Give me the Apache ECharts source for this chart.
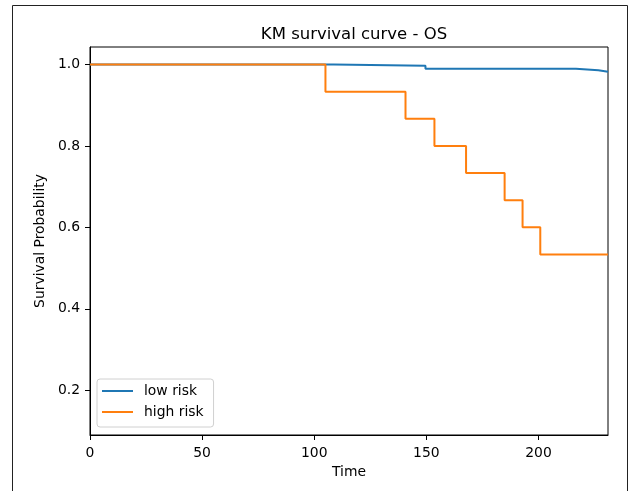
<!DOCTYPE html>
<html>
<head>
<meta charset="utf-8">
<title>KM survival curve - OS</title>
<script src="https://cdn.jsdelivr.net/npm/echarts@6/dist/echarts.min.js"></script>
<style>
  html, body { margin: 0; padding: 0; background: #fff; }
  #chart { width: 633px; height: 491px; }
</style>
</head>
<body>
<div id="chart"></div>
<script>
// Kaplan-Meier estimates: event times and survival after each event
const lowRiskTimes = [0, 108.7, 149.6, 216.7, 226.7, 231];
const lowRiskSurv  = [1.0, 0.997, 0.9895, 0.986, 0.982, 0.982];
const highRiskTimes = [0, 105.0, 140.7, 153.6, 167.7, 184.9, 192.9, 200.8, 231];
const highRiskSurv  = [1.0, 0.9333, 0.8667, 0.8, 0.7333, 0.6667, 0.6, 0.5333, 0.5333];

const seriesNames = ['low risk', 'high risk'];
const seriesColors = ['#1f77b4', '#ff7f0e'];

const xTicks = [0, 50, 100, 150, 200];
const yTicks = [0.2, 0.4, 0.6, 0.8, 1.0];

function pairs(times, surv) {
  return times.map((t, i) => [t, surv[i]]);
}

const font = 'DejaVu Sans';
const chart = echarts.init(document.getElementById('chart'), null, { renderer: 'canvas' });

chart.setOption({
  animation: false,
  backgroundColor: '#fff',
  title: {
    text: 'KM survival curve - OS',
    left: 349,
    top: 21,
    textAlign: 'center',
    textStyle: { fontFamily: font, fontSize: 16.5, fontWeight: 'normal', color: '#000' }
  },
  graphic: [{
    type: 'rect',
    shape: { x: 12.5, y: 5.5, width: 615, height: 500 },
    style: { fill: 'none', stroke: '#222', lineWidth: 1 },
    silent: true,
    z: -1
  }],
  grid: {
    left: 90, top: 47, width: 518, height: 388,
    show: true, borderColor: '#000', borderWidth: 1,
    containLabel: false
  },
  legend: {
    orient: 'vertical',
    left: 97, top: 379,
    padding: [5, 10, 8, 5],
    itemGap: 7,
    itemWidth: 31, itemHeight: 2,
    borderColor: '#d0d0d0', borderWidth: 1, borderRadius: 3,
    backgroundColor: 'rgba(255,255,255,0.8)',
    textStyle: { fontFamily: font, fontSize: 13.9, color: '#000', padding: [0, 0, 0, 6] },
    data: seriesNames.map(n => ({ name: n, icon: 'rect' }))
  },
  xAxis: {
    type: 'value',
    min: 0, max: 231,
    name: 'Time',
    nameLocation: 'middle',
    nameGap: 28,
    nameTextStyle: { fontFamily: font, fontSize: 13.9, color: '#000' },
    axisLine: { show: true, onZero: false, lineStyle: { color: '#000', width: 1 } },
    axisTick: { show: true, length: 5, lineStyle: { color: '#000', width: 1 }, customValues: xTicks },
    axisLabel: { margin: 11.5, fontFamily: font, fontSize: 13.9, color: '#000', customValues: xTicks },
    splitLine: { show: false }
  },
  yAxis: {
    type: 'value',
    min: 0.090, max: 1.043,
    name: 'Survival Probability',
    nameLocation: 'middle',
    nameGap: 39,
    nameTextStyle: { fontFamily: font, fontSize: 13.9, color: '#000' },
    axisLine: { show: true, onZero: false, lineStyle: { color: '#000', width: 1 } },
    axisTick: { show: true, length: 5, lineStyle: { color: '#000', width: 1 }, customValues: yTicks },
    axisLabel: {
      margin: 10, fontFamily: font, fontSize: 13.9, color: '#000', customValues: yTicks,
      formatter: v => v.toFixed(1)
    },
    splitLine: { show: false }
  },
  series: [
    {
      name: seriesNames[0], type: 'line', step: 'end', showSymbol: false,
      color: seriesColors[0], lineStyle: { width: 2, color: seriesColors[0] },
      data: pairs(lowRiskTimes, lowRiskSurv)
    },
    {
      name: seriesNames[1], type: 'line', step: 'end', showSymbol: false,
      color: seriesColors[1], lineStyle: { width: 2, color: seriesColors[1] },
      data: pairs(highRiskTimes, highRiskSurv)
    }
  ]
});
</script>
</body>
</html>
